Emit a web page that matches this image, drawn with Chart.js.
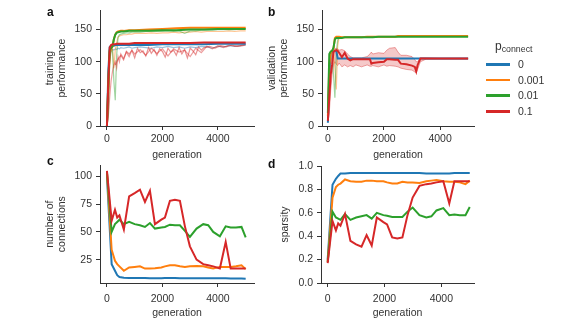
<!DOCTYPE html>
<html><head><meta charset="utf-8">
<script src="https://cdn.jsdelivr.net/npm/chart.js@4.4.1/dist/chart.umd.min.js"></script>
<style>
html,body{margin:0;padding:0;background:#fff;width:574px;height:326px;overflow:hidden;font-family:"Liberation Sans",Arial,sans-serif;}
canvas{position:absolute;}
.lab{position:absolute;font-weight:bold;font-size:12px;line-height:12px;color:#111;}
#legend{position:absolute;left:484px;top:40px;width:90px;height:80px;color:#333;font-size:10.5px;}
#legend .ttl{position:absolute;left:11px;top:0px;font-size:12px;line-height:12px;white-space:nowrap;}
#legend .ttl span{font-size:8.8px;position:relative;top:2px;}
#legend .it{position:absolute;left:0;height:12px;line-height:12px;white-space:nowrap;}
#legend .sw{position:absolute;left:2px;top:5px;width:24px;height:2.6px;}
#legend .tx{position:absolute;left:34px;top:0;}
</style>
</head><body>
<canvas id="ca" width="270" height="165" style="left:0px;top:0px"></canvas>
<canvas id="cb" width="270" height="165" style="left:222px;top:0px"></canvas>
<canvas id="cc" width="270" height="171" style="left:0px;top:155px"></canvas>
<canvas id="cd" width="270" height="171" style="left:221px;top:155px"></canvas>
<div class="lab" style="left:47px;top:6px">a</div>
<div class="lab" style="left:268px;top:6px">b</div>
<div class="lab" style="left:47px;top:155px">c</div>
<div class="lab" style="left:268px;top:158px">d</div>
<div id="legend"></div>
<script>
// ---------- legend / categories ----------
const seriesNames = ['0', '0.001', '0.01', '0.1'];
const seriesColors = ['#1f77b4', '#ff7f0e', '#2ca02c', '#d62728'];
const runColors = ['rgba(31,119,180,0.45)', 'rgba(255,127,14,0.45)', 'rgba(44,160,44,0.45)', 'rgba(214,39,40,0.45)'];

// ---------- tick labels ----------
const genTicks = [0, 2000, 4000];
const perfTicks = [0, 50, 100, 150];
const connTicks = [25, 50, 75, 100];
const sparsityTicks = [0, 0.2, 0.4, 0.6, 0.8, 1.0];

// ---------- panel a: training performance (best runs) ----------
const genA = [0,50,100,150,200,250,300,350,400,500,600,800,1000,1500,2000,2500,3000,3500,4000,4500,5000];
const trainBlue   = [0,85,123,125,125,125,126,126,126,126,126,126,126,126,127,127,127,127,128,128,128];
const trainOrange = [0,60,115,120,124,135,142,146,147,148,148,149,149,150,151,152,153,153,153,153,153];
const trainGreen  = [0,70,118,121,124,135,142,145,146,147,147,148,148,148,149,149,150,150,151,151,151];
const trainRed    = [0,70,122,126,127,127,127,128,128,128,128,128,129,129,129,129,129,130,130,130,130];

// panel a: individual runs
const genARun = [0,50,100,150,200,250,300,350,400,450,500,600,700,800,900,1000,1200,1400,1600,1800,2000,2200,2400,2600,2800,3000,3200,3400,3600,3800,4000,4200,4400,4600,4800,5000];
const runBlue   = [0,40,110,117,119,118,120,119,121,120,122,121,122,123,121,122,123,122,121,123,122,124,122,123,121,123,122,124,123,121,124,123,125,124,125,126];
const runOrange = [0,30,105,118,120,90,118,130,138,140,141,142,142,143,143,144,144,144,145,144,145,145,146,145,146,146,147,146,147,147,147,147,148,147,148,148];
const runGreen  = [0,20,100,116,118,70,40,110,138,142,143,144,145,145,146,146,146,147,147,147,147,148,147,148,144,148,148,149,149,149,150,150,150,150,151,151];
const runRed    = [0,15,45,70,85,95,100,90,108,100,112,105,115,108,118,112,119,110,121,113,120,109,120,115,118,108,121,114,124,120,125,122,126,124,125,127];
const genARun2 = [300,400,500,600,700,800,900,1000,1100,1200,1300,1400,1500,1600,1700,1800,1900,2000,2100,2200,2300,2400,2500,2600,2700,2800,2900,3000,3100,3200,3300,3400,3500,3700,3900,4100,4300,4500,4700,4900,5000];
const runRed2   = [95,104,110,103,116,112,118,106,121,114,117,109,122,113,119,110,120,116,107,121,115,118,110,122,112,119,106,121,117,111,123,118,122,124,121,125,123,126,124,125,126];

// ---------- panel b: validation performance ----------
const genB = [0,50,100,150,200,250,300,350,400,500,600,700,800,900,1000,1200,1400,1500,1550,1600,1800,2000,2100,2200,2400,2500,2600,2800,3000,3100,3150,3200,3300,3500,4000,4500,5000];
const valBlue   = [5,80,114,115,116,117,117,105,105,105,105,105,105,105,105,105,105,105,105,105,105,105,105,105,105,105,105,105,105,105,105,105,105,105,105,105,105];
const valOrange = [15,95,113,117,120,137,139,139,139,138,138,138,138,138,138,138,139,139,139,139,139,139,139,139,139,140,140,140,140,140,140,140,140,140,140,140,140];
const valGreen  = [20,112,116,117,122,135,137,137,137,137,138,138,138,138,138,138,138,138,138,138,139,139,139,139,139,139,139,139,139,139,139,139,139,139,139,139,139];
const valRed    = [8,45,80,95,115,117,118,117,114,107,114,105,102,104,104,104,104,104,97,98,99,100,104,104,103,103,97,96,94,92,85,95,105,105,105,105,105];
const valRedHi  = [8,60,95,110,118,120,121,120,118,119,117,112,108,106,106,106,108,112,115,112,114,113,118,121,122,115,110,110,108,103,100,100,106,106,105,105,105];
const valRedLo  = [6,20,55,80,95,100,96,94,98,92,95,92,94,92,95,92,95,93,93,94,92,95,93,94,93,92,90,88,87,84,83,88,100,104,104,104,104];
const genBDip = [100,150,200,250,300,350,400];
const valGreenDip  = [116,112,80,44,115,134,137];
const valOrangeDip = [113,114,112,90,57,125,138];

// ---------- panels c, d: connections and sparsity ----------
const genCD = [0,170,290,370,450,610,800,1000,1190,1370,1550,1730,1960,2090,2270,2450,2630,2810,2990,3230,3470,3650,3830,4070,4280,4460,4650,4850,5000];
const connBlue   = [100,21,15,11,9.4,8.8,8.5,8.5,8.4,8.4,8.3,8.3,8.3,8.4,8.4,8.4,8.3,8.3,8.2,8.2,8.2,8.3,8.3,8.3,8.2,8.1,8,8,7.8];
const connOrange = [104,34,24,21,19,15,18,18.5,19,17,17,17.3,18,19,20,20,19,18.5,19,19.3,19,18,17,18.5,18.5,18.5,19,20,16.5];
const connGreen  = [104,50,57,59,61,57,59,57,56,54.5,58,53,54,54.5,56.5,56,56,51,45.5,53,57,56,50,46,55,54,54,54.5,45];
const connRed    = [105,60,70,63,65,52,82,85,88,77,87,57,61,63,78,79,78,55,37,25,21,20,19,17,41,17,17,17,17];
const sparBlue   = [0.2,0.84,0.89,0.915,0.935,0.935,0.94,0.94,0.94,0.94,0.94,0.94,0.94,0.94,0.94,0.94,0.94,0.94,0.94,0.94,0.935,0.935,0.935,0.935,0.935,0.94,0.94,0.94,0.94];
const sparOrange = [0.18,0.73,0.82,0.84,0.85,0.885,0.87,0.865,0.865,0.875,0.875,0.87,0.87,0.86,0.85,0.85,0.865,0.86,0.86,0.855,0.87,0.875,0.88,0.87,0.865,0.865,0.86,0.845,0.875];
const sparGreen  = [0.18,0.61,0.56,0.55,0.54,0.59,0.54,0.56,0.57,0.58,0.55,0.60,0.58,0.575,0.565,0.565,0.565,0.61,0.645,0.58,0.56,0.57,0.62,0.64,0.58,0.585,0.58,0.58,0.65];
const sparRed    = [0.17,0.53,0.45,0.51,0.49,0.59,0.36,0.33,0.31,0.41,0.32,0.56,0.52,0.50,0.39,0.38,0.39,0.58,0.73,0.83,0.845,0.85,0.86,0.87,0.68,0.87,0.87,0.87,0.87];

// ---------- helpers ----------
Chart.defaults.font.family = '"Liberation Sans", Arial, sans-serif';
Chart.defaults.font.size = 10.5;
Chart.defaults.color = '#333';

function pts(gens, vals) { return gens.map((g, i) => ({x: g, y: vals[i]})); }
function line(gens, vals, color, width, order, extra) {
  return Object.assign({data: pts(gens, vals), borderColor: color, backgroundColor: color,
    borderWidth: width, pointRadius: 0, tension: 0, fill: false, order: order}, extra || {});
}
function scales(o) {
  return {
    x: {type: 'linear', min: o.xmin, max: o.xmax,
      afterBuildTicks: s => { s.ticks = genTicks.map(v => ({value: v})); },
      afterFit: s => { s.height = o.xh; },
      ticks: {padding: o.xpad, callback: v => String(v), maxRotation: 0, color: '#333'},
      grid: {drawOnChartArea: false, drawTicks: true, tickLength: 4, color: '#333'},
      border: {display: true, color: '#333', width: 1},
      title: {display: true, text: 'generation', color: '#333', font: {size: 10.5, lineHeight: 1.15}, padding: {top: 0, bottom: o.xtp}}
    },
    y: {type: 'linear', min: o.ymin, max: o.ymax,
      afterBuildTicks: s => { s.ticks = o.yticks.map(v => ({value: v})); },
      afterFit: s => { s.width = 100; },
      ticks: {padding: 4, callback: o.yfmt || (v => String(v)), color: '#333'},
      grid: {drawOnChartArea: false, drawTicks: true, tickLength: 4, color: '#333'},
      border: {display: true, color: '#333', width: 1},
      title: {display: true, text: o.ytitle, color: '#333', font: {size: 10.5, lineHeight: 1.15}, padding: {top: o.ytp, bottom: 0}}
    }
  };
}
function make(id, datasets, o) {
  return new Chart(document.getElementById(id), {
    type: 'line',
    data: {datasets: datasets},
    options: {
      responsive: false, animation: false, devicePixelRatio: 1,
      layout: {padding: o.pad},
      plugins: {legend: {display: false}, tooltip: {enabled: false}},
      scales: scales(o)
    }
  });
}

// ---------- panel a ----------
const trainBest = [trainBlue, trainOrange, trainGreen, trainRed];
const trainRuns = [runBlue, runOrange, runGreen, runRed];
const dsA = [];
for (let i = 0; i < 4; i++) dsA.push(line(genARun, trainRuns[i], runColors[i], 1.2, 20 - i));
dsA.push(line(genARun2, runRed2, 'rgba(214,39,40,0.5)', 1.2, 15));
for (let i = 0; i < 4; i++) dsA.push(line(genA, trainBest[i], seriesColors[i], 2, 10 - i));
make('ca', dsA, {pad: {left: 0, top: 7, right: 16, bottom: 0}, xmin: -250, xmax: 5300, xh: 39, xpad: 3, xtp: 4,
  ymin: 0, ymax: 180, yticks: perfTicks, ytitle: ['training', 'performance'], ytp: 44});

// ---------- panel b ----------
const dsB = [
  line(genB, valRedHi, 'rgba(214,39,40,0.4)', 1, 40),
  line(genB, valRedLo, 'rgba(214,39,40,0.4)', 1, 39, {fill: '-1', backgroundColor: 'rgba(214,39,40,0.25)'}),
  line(genBDip, valOrangeDip, runColors[1], 1.2, 30),
  line(genBDip, valGreenDip, runColors[2], 1.2, 29),
  line(genB, valBlue, seriesColors[0], 2, 10),
  line(genB, valOrange, seriesColors[1], 2, 9),
  line(genB, valGreen, seriesColors[2], 2, 8),
  line(genB, valRed, seriesColors[3], 2, 7)
];
make('cb', dsB, {pad: {left: 0, top: 7, right: 18, bottom: 0}, xmin: -210, xmax: 5210, xh: 39, xpad: 3, xtp: 4,
  ymin: 0, ymax: 180, yticks: perfTicks, ytitle: ['validation', 'performance'], ytp: 44});

// ---------- panel c ----------
const connAll = [connBlue, connOrange, connGreen, connRed];
const dsC = connAll.map((v, i) => line(genCD, v, seriesColors[i], 2, 10 - i));
make('cc', dsC, {pad: {left: 0, top: 6, right: 16, bottom: 0}, xmin: -250, xmax: 5300, xh: 43, xpad: 6, xtp: 7,
  ymin: 4, ymax: 110, yticks: connTicks, ytitle: ['number of', 'connections'], ytp: 44});

// ---------- panel d ----------
const sparAll = [sparBlue, sparOrange, sparGreen, sparRed];
const dsD = sparAll.map((v, i) => line(genCD, v, seriesColors[i], 2, 10 - i));
make('cd', dsD, {pad: {left: 0, top: 11, right: 17, bottom: 0}, xmin: -235, xmax: 5150, xh: 43, xpad: 6, xtp: 7,
  ymin: 0, ymax: 1, yticks: sparsityTicks, ytitle: 'sparsity', ytp: 58, yfmt: v => v.toFixed(1)});

// ---------- legend ----------
const lg = document.getElementById('legend');
lg.innerHTML = '<div class="ttl">p<span>connect</span></div>' + seriesNames.map((n, i) =>
  '<div class="it" style="top:' + [18, 33.5, 49, 65][i] + 'px"><div class="sw" style="background:' + seriesColors[i] +
  '"></div><div class="tx">' + n + '</div></div>').join('');
</script>
</body></html>
